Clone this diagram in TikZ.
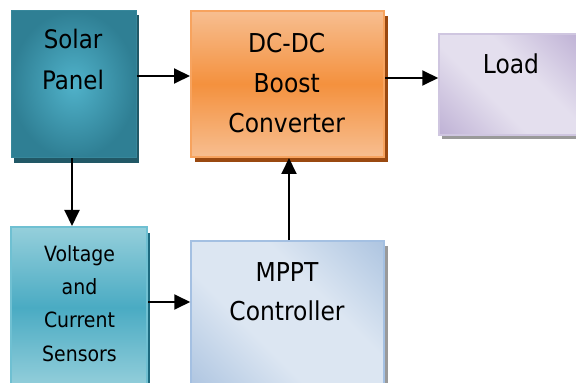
\documentclass[tikz,border=0pt]{standalone}
\usepackage{fontspec}
\setmainfont{DejaVu Sans}[FakeStretch=0.9]
\usetikzlibrary{arrows.meta}
\definecolor{solarIn}{HTML}{50B2CA}
\definecolor{solarOut}{HTML}{2F7F94}
\definecolor{solarSh}{HTML}{215866}
\definecolor{solarBd}{HTML}{37879B}
\definecolor{dcTop}{HTML}{F7BE90}
\definecolor{dcMid}{HTML}{F4913E}
\definecolor{dcSh}{HTML}{9A4910}
\definecolor{dcBd}{HTML}{F7A35E}
\definecolor{loadL}{HTML}{E4DFEE}
\definecolor{loadD}{HTML}{AA98C7}
\definecolor{loadBd}{HTML}{CFC6E0}
\definecolor{sensTop}{HTML}{95CFDB}
\definecolor{sensMid}{HTML}{4AABC3}
\definecolor{sensBd}{HTML}{6FC0D2}
\definecolor{sensSh}{HTML}{1D6B80}
\definecolor{mpptL}{HTML}{DCE6F2}
\definecolor{mpptD}{HTML}{92B1D6}
\definecolor{mpptBd}{HTML}{A4C0E2}
\definecolor{dotSh}{HTML}{9A9A9A}
\pgfdeclarehorizontalshading{loadsh}{100bp}{color(0bp)=(loadD); color(41bp)=(loadL); color(59bp)=(loadL); color(100bp)=(loadD)}
\pgfdeclarehorizontalshading{mpptsh}{100bp}{color(0bp)=(mpptD); color(39bp)=(mpptL); color(61bp)=(mpptL); color(100bp)=(mpptD)}
\tikzset{
  box/.style={rectangle, inner sep=0pt},
  txt/.style={inner sep=0pt, anchor=north, align=center, text=black},
  big/.style={font=\fontsize{26}{40}\selectfont},
  arr/.style={line width=1.9pt, -{Triangle[length=16pt,width=15pt]}}
}
\begin{document}
\begin{tikzpicture}[x=1pt,y=1pt]
\useasboundingbox (0,0) rectangle (576,383);
% shadows
\fill[solarSh] (14,220) rectangle (139,368);
\fill[dcSh] (195,221) rectangle (388,367);
\fill[dotSh] (442,244) rectangle (580,247);
\fill[sensSh] (147,-5) rectangle (150,150);
\fill[dotSh] (385,-5) rectangle (388,137);
% boxes
\node[box, draw=solarBd, line width=1pt, inner color=solarIn, outer color=solarOut,
  minimum width=125pt, minimum height=147pt] (solar) at (73.5,298.5) {};
\node[box, draw=dcBd, line width=2pt, top color=dcTop, bottom color=dcTop, middle color=dcMid,
  minimum width=193pt, minimum height=146pt] (dc) at (287.5,299) {};
\node[box, draw=loadBd, line width=1.5pt, shading=loadsh, shading angle=45,
  minimum width=141pt, minimum height=101pt] (load) at (509.5,298.5) {};
\node[box, draw=sensBd, line width=2pt, top color=sensTop, bottom color=sensTop, middle color=sensMid,
  minimum width=136pt, minimum height=161pt] (sens) at (79,75.5) {};
\node[box, draw=mpptBd, line width=1.5pt, shading=mpptsh, shading angle=45,
  minimum width=193pt, minimum height=147pt] (mppt) at (287.5,68.5) {};
% texts
\node[txt, font=\fontsize{25.5}{41}\selectfont] (solarT) at (73,354) {Solar\\Panel};
\node[txt, big] (dcT) at (286.7,350.3) {DC-DC\\Boost\\Converter};
\node[txt, big] (loadT) at (511,329.5) {Load};
\node[txt, font=\fontsize{21}{33.3}\selectfont] (sensT) at (79.5,138) {Voltage\\and\\Current\\Sensors};
\node[txt, font=\fontsize{26}{38.3}\selectfont] (mpptT) at (287,120.3) {MPPT\\Controller};
% connectors
\draw[arr] ([yshift=8.5pt]solar.east) -- ([yshift=8.5pt]solar.east -| dc.west);
\draw[arr] ([xshift=-1.5pt]solar.south) -- ([xshift=-1.5pt]solar.south |- sens.north);
\draw[arr] ([yshift=6pt]dc.east) -- ([yshift=6pt]dc.east -| load.west);
\draw[arr] ([yshift=5.5pt]sens.east) -- ([yshift=5.5pt]sens.east -| mppt.west);
\draw[arr] ([xshift=1.5pt]mppt.north) -- ([xshift=1.5pt]mppt.north |- dc.south);
\end{tikzpicture}
\end{document}
